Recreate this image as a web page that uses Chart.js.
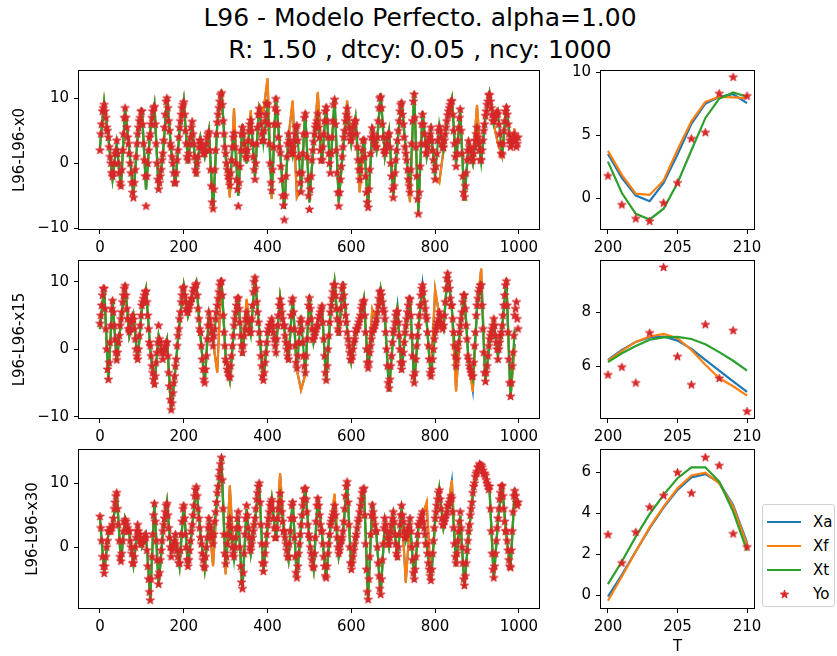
<!DOCTYPE html>
<html>
<head>
<meta charset="utf-8">
<script src="https://cdn.jsdelivr.net/npm/chart.js@4.4.1/dist/chart.umd.min.js"></script>
<style>
  body { margin: 0; width: 837px; height: 656px; position: relative; overflow: hidden; background: #fff; font-family: "DejaVu Sans", sans-serif; color: #000; }
  canvas { position: absolute; }
  .title { position: absolute; left: 0; width: 840px; text-align: center; font-size: 25px; line-height: 30px; white-space: pre; }
  #legend { position: absolute; left: 762px; top: 504px; width: 73px; height: 103px; box-sizing: border-box; border: 1px solid #d0d0d0; border-radius: 3px; background: rgba(255,255,255,0.8); }
  #legend .row { position: absolute; left: 0; height: 24px; width: 73px; }
  #legend .row span { position: absolute; left: 50px; top: 2px; font-size: 15px; line-height: 20px; }
  #legend .row svg, #legend .row canvas { position: absolute; }
</style>
</head>
<body>
<div class="title" style="top:3px">L96 - Modelo Perfecto. alpha=1.00</div>
<div class="title" style="top:35px">R: 1.50 , dtcy: 0.05 , ncy: 1000</div>
<div id="legend"></div>
<script>
// lines: one value every 10 steps, observations: one every 2 steps
const lineSteps = Array.from({ length: 100 }, (_, i) => i * 10);
const obsSteps = Array.from({ length: 500 }, (_, i) => i * 2);
const zoomSteps = [200, 201, 202, 203, 204, 205, 206, 207, 208, 209, 210];

const seriesNames = ['Xa', 'Xf', 'Xt', 'Yo'];
const seriesColors = ['#1f77b4', '#ff7f0e', '#2ca02c', '#d62728'];
const panelLabels = ['L96-L96-x0', 'L96-L96-x15', 'L96-L96-x30'];

const longTicksX = [0, 200, 400, 600, 800, 1000];
const zoomTicksX = [200, 205, 210];
const longTicksY = [[-10, 0, 10], [-10, 0, 10], [0, 10]];
const zoomTicksY = [[0, 5, 10], [6, 8], [0, 2, 4, 6]];

// ---- x0 ----
const xt0 = [2.5, 9.5, 4, -2.5, 3, -3.9, 8.5, 2, -5, 4,
  8.5, -4, 5, 9, -4, 1, 10.3, 2, -3.5, 5,
  9.7, 0, 6, -2, 4, 1, 5, -7.3, 6, 11.3,
  1, -3, 5, -5, 6, 0, 7, -2, 9, 3,
  9, -4.8, 10.3, 2, -7, 4, 1, 6, -4, 8,
  -6, 3, 7, 0, 9, -1, 10, -6, 2, 8,
  3, 7, -2, 4, -7, 5, 2, 10.8, 1, 5,
  -5, 3, 9.7, 2, -4, 11, -7.5, 8, 1, 5,
  -2, 6, 2, 7, 10, 0, 8, -5.8, 3, 0,
  5, 0, 7, 10.8, 6, 8, 1, 9, 3, 4];
const xf0 = [2.5, 9.5, 4, -2.5, 3, -3.9, 8.5, 2, -5, 4,
  8.5, -4, 5, 9, -4, 1, 10.3, 2, -3.5, 5,
  9.7, 0, 6, -2, 4, 1, 5, -7.3, 6, 11.3,
  1, -5.3, 8.5, -5, 6, 0, 8.2, -2, 9, 8,
  13.1, -5.5, 10.3, 2, -7, 4, 9.7, -5.3, -4, 8,
  -6, 3, 11, 0, 9, -1, 10, -6, 2, 9.7,
  3, 7, -4.5, 4, -7, 5, 2, 10.8, 1, 5,
  -5, 3, 9.7, 2, -6, 11, -7.5, 8, 1, 5,
  -2, -3, 2, 7, 10, 0, 8, -5.8, 3, 0,
  9, 0, 7, 10.8, 6, 3, 1, 9, 3, 5.4];
const xa0 = [2.4, 9.4, 4, -2.4, 3, -3.8, 8.4, 2, -4.9, 4,
  8.4, -4, 5, 9, -4, 1, 10.2, 2, -3.4, 5,
  9.6, 0, 6, -2, 4, 1, 5, -7.2, 6, 11.2,
  1, -5.1, 8.3, -5, 6, 0, 8, -2, 9, 7.8,
  12.9, -5.4, 10.2, 2, -6.9, 4, 9.5, -5.2, -4, 8,
  -5.9, 3, 10.8, 0, 9, -1, 9.9, -5.9, 2, 9.5,
  3, 7, -4.4, 4, -6.9, 5, 2, 10.7, 1, 5,
  -4.9, 3, 9.6, 2, -5.9, 10.9, -7.4, 8, 1, 5,
  -2, -2.9, 2, 7, 9.9, 0, 8, -5.7, 3, 0,
  8.8, 0, 7, 10.7, 6, 3.1, 1, 8.9, 3, 5.3];
const yo0 = [2, 4.5, 6, 8, 8.5, 9, 8, 7, 5.5, 5,
  4, 2.5, 1, 0, -1.5, -2, -1.5, 0, 1.5, 2,
  3.5, 1.5, 0, -1.5, -3, -3.5, -1, 2, 4.5, 7,
  8.5, 7, 5.5, 4, 3, 1.5, 0, -1.5, -3, -4.5,
  -5.3, -3, -1, 1, 3, 4.5, 5.5, 6.5, 7, 8,
  8, 6, 3, 0.5, -2, -6.6, -2, 0, 2, 4,
  4.5, 6, 7, 8, 8.5, 8.7, 6, 3, 0, -2.5,
  -4, -3, -2, -1, 0.5, 1.5, 3.5, 5.5, 7.5, 9.5,
  10, 8.5, 6.5, 5, 3, 2.5, 1, 0, -1.5, -3,
  -3, -1.5, 0.5, 2, 4, 5.5, 6.5, 7.5, 8.5, 9,
  9.4, 7.5, 5, 3, 1, 0.5, 1.5, 3, 4, 5.5,
  6.4, 4.5, 3, 1, -1, -1.5, 0, 1, 2.5, 3.5,
  3.5, 3, 2.5, 2, 1.5, 1.5, 2, 3, 4, 4.5,
  4.8, 2, -1, -3.5, -6, -7, -4, -1, 2, 4.5,
  6.3, 7.5, 8.5, 9.5, 10.5, 10.8, 9, 6.5, 4.5, 2.5,
  1.5, 0, -1, -2, -2.5, -3.4, -1.5, 0.5, 2.5, 4,
  4.6, 2.5, 0, -2.5, -4, -6.6, -3, -0.5, 2, 4.5,
  5.5, 4.5, 3, 2, 1, 0.8, 2, 3.5, 5, 6,
  6.6, 5, 3, 1, -1, -2.5, 0, 3, 5.5, 7.5,
  8.4, 7.5, 6, 4.5, 3.5, 3.5, 5, 6.5, 7.5, 9.2,
  9, 6, 3, 0, -3, -4.2, -1, 2.5, 6, 8.5,
  9.9, 8, 6, 4, 2.5, 1.6, -0.5, -2.5, -5, -6.5,
  -8.7, -5, -2, 1, 3, 4.5, 3.5, 3, 2, 1.5,
  1.5, 2.5, 3.5, 4.5, 5.5, 5.8, 3.5, 1, -1.5, -3,
  -4.4, -1.5, 1.5, 4.5, 7, 7.6, 4.5, 1, -2.5, -5,
  -7.1, -4, -2, 0.5, 2, 3.3, 4.5, 5.5, 6, 6.5,
  7.6, 5.5, 4, 2, 0.5, 0.5, 2.5, 4.5, 6.5, 8,
  8.6, 6.5, 4, 1.5, 0, -1.5, 1.5, 4, 6.5, 9,
  9.8, 6, 2, -1.5, -4.5, -6.6, -4.5, -2.5, -0.5, 1,
  2.5, 4, 5, 6.5, 7.5, 8.4, 7, 5.5, 4.5, 3.5,
  3.6, 4.5, 5.5, 6, 6.5, 6.5, 4.5, 2.5, 0.5, -1,
  -2.5, -1, 0.5, 2, 3.5, 3.6, 1, -2, -4.5, -6,
  -6.8, -4, -1, 1.5, 4, 5.4, 4.5, 3.5, 3, 2.5,
  2.5, 4, 6.5, 8.5, 10, 10.2, 8.5, 6, 4, 2,
  1.5, 2, 3, 4, 4.5, 4.5, 2.5, 0, -2, -4,
  -5.3, -3.5, -1.5, 0.5, 2, 3.5, 5, 6.5, 8, 9,
  9.3, 7.5, 6, 4, 2.5, 1.5, 0.5, -1, -2.5, -3.5,
  -4.5, -1, 3, 6.5, 9.5, 10.6, 7, 2.5, -2, -5.5,
  -7.8, -4.5, -0.5, 3, 6, 7.5, 6, 4.5, 3, 1.5,
  1.6, 2.5, 3.5, 4, 4.5, 5.5, 3.5, 2, 0.5, -1,
  -2.5, -0.5, 1.5, 3.5, 5, 5.6, 5, 4, 3, 2.5,
  2.4, 3.5, 4.5, 5.5, 6.5, 7.4, 8, 8.5, 9, 9.5,
  9.6, 7.5, 5, 3, 1, -0.5, 1.5, 3.5, 5.5, 7,
  8.3, 5, 1.5, -2, -4.5, -5.2, -3.5, -1.5, 0.5, 2,
  3.4, 2.5, 2, 1, 0.5, 0.4, 1.5, 2.5, 3.5, 4.5,
  5.5, 4, 3, 2, 0.5, 0.5, 2, 3.5, 5, 6,
  7.3, 8, 9, 9.5, 10.5, 10.5, 9.5, 8.5, 7.5, 6.5,
  6.5, 7, 7.5, 7.5, 8, 7.6, 6, 4.5, 3, 1.5,
  1.3, 3, 5, 6.5, 8, 8.6, 7.5, 6, 4.5, 3.5,
  2.5, 3, 3.5, 4, 4, 4.5, 3.5, 2.5, 3, 4];

// ---- x15 ----
const xt15 = [3, 9.3, -4.7, 7.5, -1.9, 4, 9.8, 2, 5, -1.8,
  6, 9, 0, -5.6, 2, -1, 1.5, -9.3, -3, 4,
  9.5, 5, 8, 10, 2, -5.3, 5, 1, 6, 10.5,
  -1, -4.6, 3, 8, -1, 5, 2, 11, 3, -4.9,
  2, 4, 0, 7.8, 3, -1.9, 7.8, -3.1, 5, -3.9,
  8, 1, 4, 6, -4.9, 5, 10, 2, 10, 3,
  -1.9, 2, 4, 7.5, -3.1, 2, 4, 9, 5, -6.3,
  2, 6, -3.4, 3, 7.8, -5.3, 3, 9.8, 4, -4.4,
  2, 5, 3, 11.5, 6, -2, 3, 8.3, -2, -4.5,
  6, 10, -5.1, 1, 4, -1, 3, 10.5, -7.3, 3];
const xf15 = [3, 9.3, -4.7, 7.5, -1.9, 4, 9.8, 2, 5, -1.8,
  6, 9, 0, -5.6, 2, -1, 1.5, -9.3, -3, 4,
  9.5, 5, 8, 10, 2, -5.3, 5, 1, -3.5, 10.5,
  -1, -4.6, 3, 8, -1, 7.5, 2, 11, 3, -4.9,
  2, 4, 0, 7.8, 3, -1.9, 7.8, -3.1, -6.1, -3.9,
  8, 1, 4, 6, -4.9, 5, 10, 2, 10, 3,
  -1.9, 2, 4, 7.5, -3.1, 6, 4, 9, 5, -6.3,
  2, 6.6, -3.4, 3, 7.8, -5.3, 3, 9.8, 4, -4.4,
  9, 5, 3, 11.5, 6, -6.3, 3, 8.3, -2, -6.3,
  6, 12, -5.1, 1, 4, -1, 3, 10.5, -7.3, 0.6];
const xa15 = [3, 9.2, -4.6, 7.4, -1.8, 4, 9.7, 2, 5, -1.7,
  6, 8.9, 0, -5.5, 2, -1, 1.5, -9.2, -3, 4,
  9.4, 5, 8, 9.9, 2, -5.2, 5, 1, -3.3, 10.4,
  -1, -4.5, 3, 7.9, -1, 7.3, 2, 10.9, 3, -4.8,
  2, 4, 0, 7.7, 3, -1.8, 7.7, -3, -6, -3.8,
  7.9, 1, 4, 6, -4.8, 5, 9.9, 2, 10.1, 3,
  -1.8, 2, 4, 7.4, -3, 5.8, 4, 8.9, 5, -6.2,
  2, 6.5, -3.3, 3, 7.7, -5.2, 3, 9.7, 4, -4.3,
  8.8, 5, 3, 11.4, 6, -6.1, 3, 8.2, -2, -6.1,
  6, 11.9, -5, 1, 4, -1, 3, 10.4, -7.2, 0.8];
const yo15 = [3.8, 5, 6.5, 8, 9, 9, 6, 3, 0, -3,
  -4.5, -2, 1, 3.5, 6, 7.2, 5.5, 3.5, 1.5, -0.5,
  -1.6, -0.5, 1, 2, 3.5, 4.5, 5.5, 7, 8, 9,
  9.4, 8, 6, 4.5, 3, 2.6, 3, 4, 4.5, 5,
  4.4, 3, 1.5, 0, -1, -1.5, 0, 2, 3.5, 5,
  6.5, 7, 7.5, 8, 8.5, 8.6, 7, 5, 3, 1,
  0.5, -1, -2.5, -3.5, -4.5, -5.2, -4, -2, -0.5, 1,
  3.5, 1.5, 1, 0, -0.5, -1.5, -0.5, 0, 0.5, 1,
  1, -1, -3.5, -5.5, -7.5, -9, -8, -6.5, -5, -4,
  -2.5, -1.5, 0.5, 2, 3, 4.5, 5.5, 7, 8, 9,
  9.2, 8, 7, 6, 5.5, 5.5, 6, 6.5, 7, 7.5,
  7.5, 8.5, 9, 9, 9.5, 9.7, 8, 6, 4.5, 3,
  2.5, 0.5, -1.5, -3, -4.5, -5, -3, -1, 1.5, 3.5,
  5.5, 4.5, 3.5, 2.5, 1.5, 0.5, 2, 3, 4.5, 5.5,
  6.5, 7.5, 8.5, 9.5, 10, 10.1, 8, 5, 2.5, 0.5,
  -1.5, -2, -3, -3.5, -4, -4.2, -2.5, -1, 0.5, 2,
  3.5, 4.5, 5.5, 6.5, 7.5, 7.6, 6, 4, 2, 0.5,
  -0.5, 0.5, 2, 3, 4.5, 5.5, 4.5, 4, 3, 2.5,
  2.5, 4.5, 6.5, 8.5, 10, 10.6, 9, 7, 5.5, 4,
  2.5, 1, -1, -2.5, -4, -4.6, -3.5, -2, -0.5, 1,
  2.5, 3, 3.5, 3.5, 4, 4.5, 3.5, 2.5, 1.5, 0.5,
  -0.5, 1.5, 3.5, 5, 6.5, 7.4, 6.5, 5.5, 4.5, 3.5,
  3.5, 2, 1, 0, -1, -1.5, 0.5, 3, 5, 7,
  7.5, 5.5, 3, 0.5, -2, -2.8, -1, 1, 2.5, 4,
  4.5, 3, 1, -1, -2.5, -3.5, -1, 1.5, 4, 6.5,
  7.6, 6, 4.5, 3, 1.5, 1.5, 2, 2.5, 3, 3.5,
  3.5, 4.5, 5, 5.5, 6, 6.4, 4, 1.5, -1, -3.5,
  -4.6, -2.5, 0, 2, 4, 5.5, 6.5, 7.5, 8.5, 9.5,
  9.6, 8, 6, 4.5, 3, 2.5, 4, 6, 7.5, 9,
  9.5, 8, 6.5, 5, 4, 2.5, 1.5, 0.5, -0.5, -1.5,
  -1.6, -1, 0, 1, 1.5, 2.5, 3, 3, 3.5, 4,
  4.5, 5, 6, 6.5, 7, 7.2, 5, 2.5, 0, -2,
  -2.8, -2, -0.5, 0.5, 1.5, 2.5, 3, 3, 3.5, 4,
  4.5, 5.5, 6.5, 7.5, 8.5, 8.6, 8, 7, 6, 5.5,
  4.5, 2.5, 0, -2.5, -5, -5.8, -4.5, -2.5, -1, 1,
  2.5, 3, 4, 5, 5.5, 5.6, 4, 2, 0, -2,
  -3, -2, -0.5, 1, 2.5, 3.5, 4.5, 5.5, 6.5, 7.5,
  7.4, 5, 2, -1, -4, -5, -3.5, -1.5, 0.5, 2,
  3.5, 5, 6.5, 8, 9, 9.5, 8.5, 7, 6, 5,
  4.5, 2.5, 0.5, -1.5, -3.5, -4, -3, -1.5, 0, 1.5,
  2.5, 3, 3.5, 4, 4.5, 5.5, 5, 4, 3.5, 3,
  3.5, 5, 7, 9, 10.5, 11.2, 10, 9, 7.5, 6.5,
  6.5, 4.5, 2.5, 0.5, -1, -2.5, -1.5, 0, 1, 2.5,
  3.5, 4.5, 5.5, 7, 8, 8, 6, 3.5, 1.5, -1,
  -1.5, -2.5, -3, -3.5, -4, -4, -2, 0.5, 2.5, 5,
  6.5, 7.5, 8.5, 9, 9.5, 9.5, 6.5, 3, -0.5, -3.5,
  -4.8, -3.5, -2.5, -1, 0.5, 1.5, 2, 2.5, 3, 3.5,
  4.5, 3.5, 2, 1, 0, -1.5, 0, 1, 2, 2.5,
  3.5, 5, 6.5, 8, 9.5, 10.1, 6.5, 2.5, -1.5, -5,
  -7, -5, -2.5, -0.5, 2, 5, 6, 7, 4.5, 3];

// ---- x30 ----
const xt30 = [4.5, -4, 2, 3, 8.7, -2.5, 4.5, 2, -2.8, 3,
  0, 2, -8.2, 7.1, -6.1, 2, 7.1, -1, 1.5, -3,
  6.9, -3.3, 3, 9.7, 2, -3.5, 4, 1, 8, 13.9,
  -3, 4, -2, 5, -6.7, 6, -1, 4, 10.3, -4.1,
  3, 7.7, 1, 8, 2, -2, 7.4, -5.1, 3, 9.5,
  1, -3.5, 7.9, 2, -5.1, 3, 6, -1.5, 2, 10.5,
  -3.8, 1, 5, 9.5, -8.5, 7, 2, -7.7, 4, 0,
  5, -2, 6, 1, 4, -5.4, 3, 5, 0, -5.5,
  4, 9.2, 3, 6, 8, -3, 5, -6.4, 2, 8,
  12, 13.1, 11.5, 9, -5.1, 4, 10, 2, -3.5, 9.2];
const xf30 = [4.5, -4, 2, 3, 8.7, -2.5, 4.5, 2, -2.8, 3,
  0, 2, -8.2, 7.1, -6.1, 2, 7.1, -1, 1.5, -3,
  6.9, -3.3, 3, 9.7, 2, -3.5, 4, -3, 8, 13.9,
  -4.3, 9.7, -2, 5, -6.7, 6, -1, 4, 10.3, -4.1,
  3, 7.7, 1, 11.6, 2, -2, 7.4, -5.1, 3, 9.5,
  1, -3.5, 7.9, 2, -5.1, 3, 8.4, -1.5, 2, 10.5,
  -3.8, 1, 5, 9.5, -8.5, 7, 2, -7.7, 4, 0,
  5, -2, 6, -5.6, 4, -5.4, 3, 5, 7.1, -5.5,
  4, 9.2, 3, 6, 10.5, -3, 5, -6.4, 2, 8,
  12, 13.1, 11.5, 9, -5.1, 4, 10, 1, -3.5, 9.2];
const xa30 = [4.4, -3.9, 2, 3, 8.6, -2.4, 4.5, 2, -2.7, 3,
  0, 2, -8.1, 7, -6, 2, 7, -1, 1.5, -2.9,
  6.8, -3.2, 3, 9.6, 2, -3.4, 4, -2.8, 8, 13.8,
  -4.1, 9.5, -2, 5, -6.6, 6, -1, 4, 10.2, -4,
  3, 7.6, 1, 11.4, 2, -2, 7.3, -5, 3, 9.4,
  1, -3.4, 7.8, 2, -5, 3, 8.2, -1.5, 2, 10.4,
  -3.7, 1, 5, 9.4, -8.4, 6.9, 2, -7.6, 4, 0,
  5, -2, 6, -5.4, 4, -5.3, 3, 5, 6.9, -5.4,
  4, 9.1, 3, 6, 10.3, -3, 5, -6.3, 2, 8,
  11.9, 13, 11.4, 9, -5, 4, 9.9, 1.1, -3.4, 9.1];
const yo30 = [4.8, 3, 1, -1.5, -3, -4.1, -3, -1.5, 0, 1,
  2.5, 2.5, 3, 2.5, 3, 3.5, 4.5, 6, 7, 8,
  8.5, 6, 3.5, 1, -1.5, -2.2, -1, 1, 2.5, 4,
  4.3, 4, 3.5, 3, 2.5, 2.5, 1, 0, -1, -2.5,
  -2.5, -1.5, 0, 1.5, 2.5, 3.5, 2.5, 2, 1, 0.5,
  0.5, 1, 1, 1.5, 2, 1.5, -0.5, -3, -5, -7,
  -8.3, -5, -1.5, 2, 5, 6.8, 4, 1, -2, -4.5,
  -5.8, -4, -2, -0.5, 1, 2.5, 3.5, 4.5, 5.5, 6.5,
  6.8, 5, 3, 1.5, 0, -1.5, -0.5, 0, 0.5, 1,
  2, 0.5, -0.5, -1.5, -2.5, -2.5, -0.5, 2, 4, 6,
  6.5, 4.5, 2, 0, -2, -3, -2, -0.5, 1, 2.5,
  3.5, 5, 6.5, 8, 9, 9.4, 8, 6, 4.5, 3,
  1.5, 0.5, -1, -2, -3, -3.2, -1.5, 0, 1.5, 3,
  4.5, 3.5, 3, 2, 1.5, 0.5, 2, 4, 5.5, 7,
  8.5, 9.5, 11, 12, 13, 14, 10.5, 6, 2, -1,
  -2.6, -1.5, 0.5, 2, 3.5, 4.5, 3, 1.5, 0, -1,
  -1.5, 0, 1.5, 3, 4.5, 5.5, 3, 0, -3, -5.5,
  -6.5, -4, -1, 2, 4.5, 6.5, 5, 3, 1.5, 0,
  -0.5, 0.5, 1.5, 2.5, 3.5, 4.5, 6, 7.5, 8.5, 9.5,
  10, 7, 3.5, 0.5, -2.5, -3.8, -2.5, -1, 0.5, 2,
  3.5, 4.5, 5.5, 6.5, 7, 7.4, 6, 4.5, 3, 1.5,
  1.5, 3, 4.5, 6, 7, 8.4, 7, 5.5, 4, 2.5,
  2.5, 1.5, 0.5, -0.5, -1.5, -1.5, 0.5, 2.5, 4.5, 6.5,
  7, 4.5, 1.5, -1.5, -4, -4.8, -3, -1, 0.5, 2,
  3.5, 5, 6.5, 7.5, 9, 9.2, 7.5, 5.5, 3.5, 2,
  1.5, 0, -1, -2, -3, -3.2, -1, 1.5, 4, 6.5,
  7.6, 6.5, 5, 3.5, 2.5, 2.5, 0.5, -1.5, -3, -4.5,
  -4.8, -3, -1, 0.5, 2, 3.5, 4, 4.5, 5, 5.5,
  6.5, 5, 3, 1.5, 0, -1, -0.5, 0.5, 1, 1.5,
  2.5, 4, 6, 8, 9.5, 10.2, 7, 3.5, 0, -2.5,
  -3.5, -2.5, -1.5, -0.5, 0.5, 1.5, 2, 3, 4, 4.5,
  5.5, 6.5, 7.5, 8.5, 9, 9.2, 5, 0.5, -3.5, -7,
  -8.2, -5, -1.5, 2, 5, 6.6, 5.5, 4.5, 3.5, 2.5,
  2.5, 0, -2.5, -4.5, -6.5, -7.4, -5, -2, 0.5, 3,
  4.5, 3.5, 2.5, 1.5, 0.5, 0.5, 1.5, 2.5, 3.5, 4.5,
  5.5, 4, 2, 0.5, -1, -1.5, 0, 2, 3.5, 5,
  6.5, 5, 4, 2.5, 1.5, 1.5, 2, 2.5, 3, 3.5,
  4.5, 2.5, 0, -2, -4, -5, -3.5, -1.5, 0.5, 2,
  3.5, 3.5, 4, 4.5, 5, 5.5, 4, 3, 2, 0.5,
  0.5, -1, -2.5, -3.5, -4.5, -5.2, -3.5, -1, 1, 3,
  4.5, 5.5, 6.5, 7.5, 8.5, 8.9, 7.5, 6, 4.5, 3.5,
  3.5, 4, 4.5, 5, 5.5, 6.5, 6.5, 7, 7.5, 8,
  7.6, 5.5, 3, 0.5, -1.5, -2.5, -1, 1, 2.5, 4,
  5.5, 3, 0, -2.5, -5, -6, -4.5, -2.5, -0.5, 1,
  2.5, 3.5, 5, 6, 7, 8.5, 9.5, 10, 11, 11.5,
  11.8, 12.5, 12.5, 13, 12.8, 12.8, 12.5, 12, 11.5, 11.5,
  11.2, 10.5, 10, 9.5, 9, 9.5, 6, 2.5, -1, -3.5,
  -4.8, -3, -1, 1, 3, 4.5, 6, 7.5, 8.5, 9.5,
  9.6, 8, 6, 4, 2.5, 2.5, 1, -0.5, -2, -3,
  -3.2, -0.5, 2.5, 5.5, 8, 8.8, 8, 7, 6.5, 7];

// ---- zoom on steps 200..210 ----
const zxa0 = [3.5, 1.6, 0.2, -0.25, 1.2, 3.45, 5.9, 7.5, 8.05, 8.25, 7.55];
const zxf0 = [3.75, 1.85, 0.35, 0.25, 1.4, 3.85, 6.1, 7.65, 8.05, 8.0, 7.95];
const zxt0 = [2.9, 0.4, -1.25, -1.7, -0.85, 1.2, 3.8, 6.35, 7.9, 8.4, 8.05];
const zyo0 = [1.75, -0.55, -1.65, -1.85, -0.4, 1.2, 4.7, 5.2, 8.3, 9.6, 8.1];

const zxa15 = [6.23, 6.6, 6.9, 7.07, 7.1, 6.95, 6.64, 6.23, 5.83, 5.43, 5.04];
const zxf15 = [6.2, 6.57, 6.9, 7.1, 7.2, 7.04, 6.6, 6.05, 5.55, 5.25, 4.9];
const zxt15 = [6.15, 6.48, 6.75, 6.98, 7.07, 7.09, 7.01, 6.81, 6.52, 6.2, 5.83];
const zyo15 = [5.67, 5.96, 5.37, 7.23, 9.67, 6.35, 5.3, 7.54, 5.54, 7.32, 4.31];

const zxa30 = [-0.05, 1.0, 2.14, 3.27, 4.27, 5.13, 5.74, 5.9, 5.49, 4.4, 2.57];
const zxf30 = [-0.26, 0.92, 2.14, 3.32, 4.32, 5.21, 5.83, 5.97, 5.45, 4.32, 2.46];
const zxt30 = [0.55, 1.65, 2.86, 3.96, 4.89, 5.7, 6.23, 6.23, 5.53, 4.08, 2.17];
const zyo30 = [2.95, 1.57, 3.07, 4.29, 4.85, 5.97, 4.97, 6.7, 6.31, 2.99, 2.35];

const longSeries = [[xa0, xf0, xt0, yo0], [xa15, xf15, xt15, yo15], [xa30, xf30, xt30, yo30]];
const zoomSeries = [[zxa0, zxf0, zxt0, zyo0], [zxa15, zxf15, zxt15, zyo15], [zxa30, zxf30, zxt30, zyo30]];

// layout of the subplot grid (pixels of the chart areas) and axis limits
const rows = [
  { top: 71, bottom: 229, longY: [-10.1, 14.2], zoomY: [-2.46, 10.1], labelPad: 11 },
  { top: 261, bottom: 418, longY: [-10.2, 13.1], zoomY: [4.07, 9.91], labelPad: 11 },
  { top: 450, bottom: 608, longY: [-9.5, 15.2], zoomY: [-0.61, 7.07], labelPad: 24 }
];
const longX = [-50, 1048];
const zoomX = [199.5, 210.5];

const FONT = { family: '"DejaVu Sans"', size: 15, lineHeight: 1.2 };

function starImage(color, r) {
  const size = Math.ceil(r * 2 + 3) | 1;
  const c = document.createElement('canvas');
  c.width = size; c.height = size;
  const g = c.getContext('2d');
  g.beginPath();
  for (let i = 0; i < 10; i++) {
    const rr = i % 2 ? r * 0.382 : r;
    const a = -Math.PI / 2 + i * Math.PI / 5;
    g.lineTo(size / 2 + rr * Math.cos(a), size / 2 + rr * Math.sin(a));
  }
  g.closePath();
  g.fillStyle = color;
  g.fill();
  g.strokeStyle = color;
  g.lineWidth = 1;
  g.lineJoin = 'round';
  g.stroke();
  return c;
}
const star = starImage(seriesColors[3], 4.4);

const framePlugin = {
  id: 'frame',
  afterDraw(chart) {
    const a = chart.chartArea, ctx = chart.ctx;
    ctx.save();
    ctx.strokeStyle = '#000';
    ctx.lineWidth = 1;
    ctx.strokeRect(Math.round(a.left) - 0.5, Math.round(a.top) - 0.5,
      Math.round(a.right - a.left) + 1, Math.round(a.bottom - a.top) + 1);
    ctx.restore();
  }
};

function minusFmt(v) {
  return v < 0 ? '\u2212' + Math.abs(v) : String(v);
}

function toXY(xs, ys) {
  return ys.map((y, i) => ({ x: xs[i], y: y }));
}

function addCanvas(left, top, width, height) {
  const c = document.createElement('canvas');
  c.width = width;
  c.height = height;
  c.style.left = left + 'px';
  c.style.top = top + 'px';
  document.body.appendChild(c);
  return c.getContext('2d');
}

function buildDatasets(xLine, xObs, series) {
  return [
    { label: 'Xa', data: toXY(xLine, series[0]), borderColor: seriesColors[0], order: 3 },
    { label: 'Xf', data: toXY(xLine, series[1]), borderColor: seriesColors[1], order: 2 },
    { label: 'Xt', data: toXY(xLine, series[2]), borderColor: seriesColors[2], order: 1 },
    { label: 'Yo', data: toXY(xObs, series[3]), showLine: false, pointStyle: star, pointRadius: 5, order: 0 }
  ].map((d, i) => i < 3
    ? Object.assign(d, { showLine: true, borderWidth: 2.2, pointRadius: 0, tension: 0 })
    : d);
}

function axis(limits, ticks, extra) {
  return Object.assign({
    type: 'linear',
    min: limits[0],
    max: limits[1],
    afterBuildTicks: s => { s.ticks = ticks.map(v => ({ value: v })); },
    ticks: { font: FONT, color: '#000', padding: 5, maxRotation: 0, autoSkip: false, callback: minusFmt },
    grid: { drawOnChartArea: false, drawTicks: true, tickLength: 5, color: '#000', lineWidth: 1 },
    border: { display: false }
  }, extra);
}

function makePanel(ctx, xLimits, xTicks, yLimits, yTicks, datasets, padding, yWidth, xHeight, yTitle, xTitle) {
  return new Chart(ctx, {
    type: 'scatter',
    data: { datasets: datasets },
    options: {
      responsive: false,
      animation: false,
      events: [],
      layout: { padding: padding },
      plugins: { legend: { display: false }, tooltip: { enabled: false } },
      scales: {
        x: axis(xLimits, xTicks, {
          position: 'bottom',
          title: xTitle ? { display: true, text: xTitle, font: FONT, color: '#000', padding: { top: 0, bottom: 0 } } : { display: false },
          afterFit: s => { s.height = xHeight; s.paddingLeft = 0; s.paddingRight = 0; }
        }),
        y: axis(yLimits, yTicks, {
          position: 'left',
          title: yTitle ? { display: true, text: yTitle.text, font: FONT, color: '#000', padding: { top: yTitle.pad, bottom: 0 } } : { display: false },
          afterFit: s => { s.width = yWidth; s.paddingTop = 0; s.paddingBottom = 0; }
        })
      }
    },
    plugins: [framePlugin]
  });
}

rows.forEach((row, r) => {
  const h = row.bottom - row.top;
  const lastRow = r === rows.length - 1;

  // long run, steps 0..1000
  const ctxL = addCanvas(0, row.top - 10, 545, h + 10 + 28);
  makePanel(ctxL, longX, longTicksX, row.longY, longTicksY[r],
    buildDatasets(lineSteps, obsSteps, longSeries[r]),
    { top: 10, right: 6, left: 0, bottom: 0 }, 79, 28,
    { text: panelLabels[r], pad: row.labelPad }, null);

  // zoom on steps 200..210
  const xh = lastRow ? 48 : 28;
  const ctxR = addCanvas(545, row.top - 10, 217, h + 10 + xh);
  makePanel(ctxR, zoomX, zoomTicksX, row.zoomY, zoomTicksY[r],
    buildDatasets(zoomSteps, zoomSteps, zoomSeries[r]),
    { top: 10, right: 8, left: 0, bottom: 0 }, 56, xh,
    null, lastRow ? 'T' : null);
});

// legend next to the last zoom panel
const legend = document.getElementById('legend');
seriesNames.forEach((name, i) => {
  const row = document.createElement('div');
  row.className = 'row';
  row.style.top = (5 + i * 24) + 'px';
  if (i < 3) {
    row.innerHTML = '<svg width="34" height="4" style="left:4px;top:10px"><line x1="0" y1="2" x2="34" y2="2" stroke="' +
      seriesColors[i] + '" stroke-width="2.2"/></svg>';
  } else {
    const s = starImage(seriesColors[3], 4.4);
    s.style.left = (21 - s.width / 2) + 'px';
    s.style.top = (12 - s.height / 2) + 'px';
    row.appendChild(s);
  }
  const t = document.createElement('span');
  t.textContent = name;
  row.appendChild(t);
  legend.appendChild(row);
});
</script>
</body>
</html>
